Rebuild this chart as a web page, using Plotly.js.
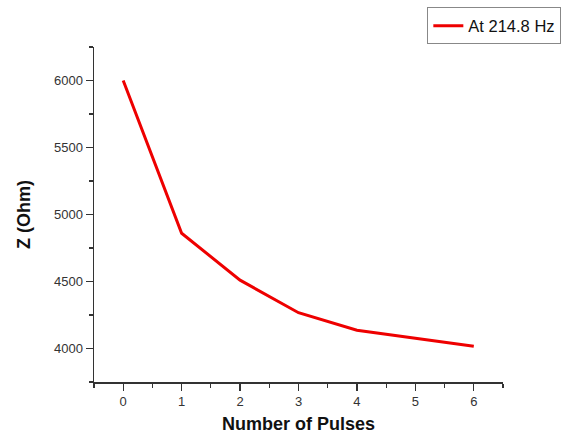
<!DOCTYPE html>
<html>
<head>
<meta charset="utf-8">
<script src="https://cdn.plot.ly/plotly-3.0.1.min.js"></script>
<style>html,body{margin:0;padding:0;background:#fff;}#chart{width:567px;height:434px;}</style>
</head>
<body>
<div id="chart"></div>
<script>
const pulses = [0, 1, 2, 3, 4, 5, 6];
const impedance = [6000, 4860, 4510, 4267, 4136, 4076, 4016];
const seriesName = 'At 214.8 Hz';
const xTitle = 'Number of Pulses';
const yTitle = 'Z (Ohm)';
const xTicks = [0, 1, 2, 3, 4, 5, 6];
const yTicks = [4000, 4500, 5000, 5500, 6000];

const trace = {
  x: pulses, y: impedance, type: 'scatter', mode: 'lines', name: seriesName,
  line: {color: '#ee0000', width: 3}
};
const axisCommon = {
  showline: true, linecolor: '#333', linewidth: 1.5, mirror: false,
  ticks: 'outside', ticklen: 7, tickwidth: 1.2, tickcolor: '#333',
  showgrid: false, zeroline: false,
  tickfont: {family: 'Liberation Sans, Arial, sans-serif', size: 13, color: '#333'}
};
const layout = {
  width: 567, height: 434,
  margin: {l: 94, r: 64, t: 47, b: 52, autoexpand: false},
  paper_bgcolor: '#fff', plot_bgcolor: '#fff',
  showlegend: true,
  legend: {x: 0.815, y: 1.118, xanchor: 'left', yanchor: 'top',
    bordercolor: '#888', borderwidth: 1, bgcolor: '#fff',
    font: {family: 'Liberation Sans, Arial, sans-serif', size: 16.5, color: '#111'},
    itemwidth: 30, tracegroupgap: 0},
  xaxis: Object.assign({}, axisCommon, {
    range: [-0.5, 6.5], tickvals: xTicks, ticktext: xTicks.map(String),
    minor: {ticks: 'outside', dtick: 0.5, tick0: -0.5, ticklen: 4, tickcolor: '#333', tickwidth: 1.2},
    title: {text: xTitle, standoff: 14, font: {family: 'Liberation Sans, Arial, sans-serif', size: 18, color: '#111', weight: 'bold'}}
  }),
  yaxis: Object.assign({}, axisCommon, {
    range: [3750, 6250], tickvals: yTicks, ticktext: yTicks.map(String),
    minor: {ticks: 'outside', dtick: 250, tick0: 3750, ticklen: 4, tickcolor: '#333', tickwidth: 1.2},
    title: {text: yTitle, standoff: 18, font: {family: 'Liberation Sans, Arial, sans-serif', size: 18, color: '#111', weight: 'bold'}}
  })
};
Plotly.newPlot('chart', [trace], layout, {displayModeBar: false, staticPlot: true});
</script>
</body>
</html>
